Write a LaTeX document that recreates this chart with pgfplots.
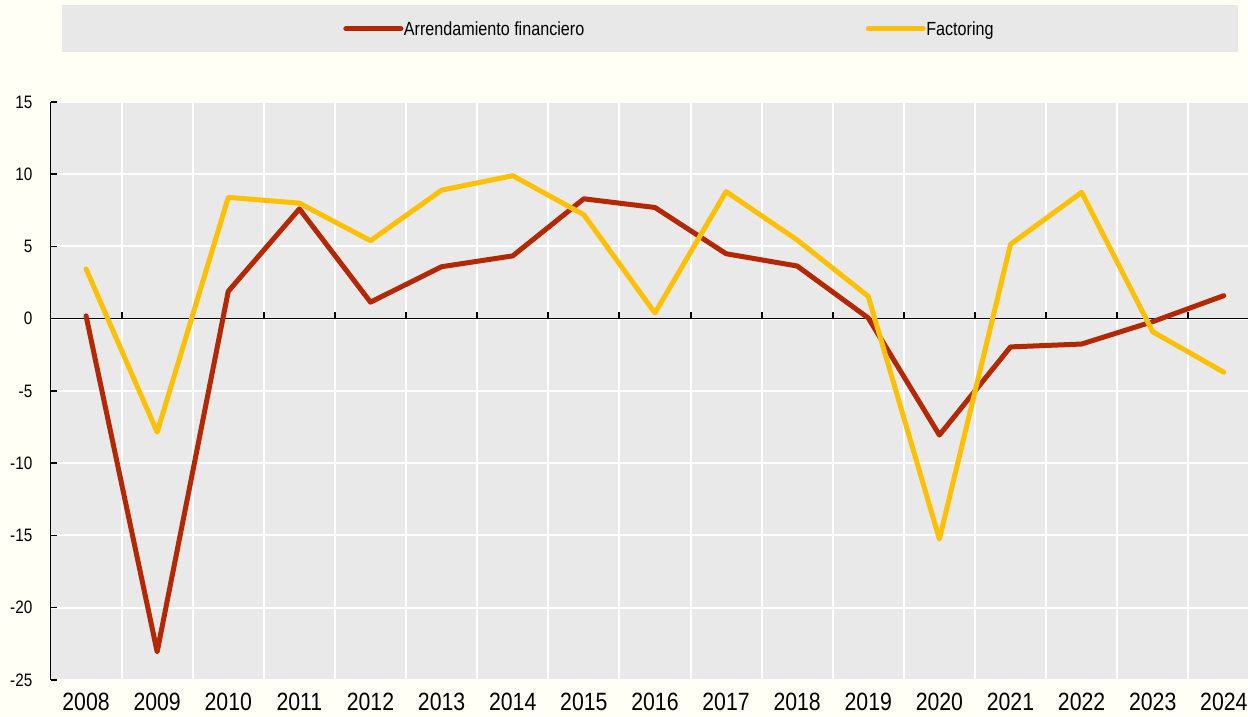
\documentclass[border=0pt]{standalone}
\usepackage{fontspec}
\setmainfont{Liberation Sans}[FakeStretch=0.85]
\usepackage{pgfplots}
\pgfplotsset{compat=1.18}

\definecolor{arrred}{RGB}{180,40,0}
\definecolor{factyel}{RGB}{255,192,0}
\definecolor{plotbg}{RGB}{233,233,233}
\definecolor{pagebg}{RGB}{255,255,246}
\definecolor{legbg}{RGB}{232,232,232}

\begin{document}
\begin{tikzpicture}[x=1pt,y=1pt]
\useasboundingbox[fill=pagebg] (0,0) rectangle (1248,717);
\fill[legbg] (62,665) rectangle (1238,712);
\begin{axis}[
  at={(50.5pt,37pt)}, anchor=south west,
  scale only axis, width=1197.5pt, height=578pt,
  xmin=-0.5, xmax=16.34, ymin=-25, ymax=15,
  axis background/.style={fill=plotbg},
  axis x line*=bottom, axis y line*=left,
  x axis line style={draw=none},
  y axis line style={-, black, line width=1.5pt},
  xtick={0,...,16},
  xticklabels={2008,2009,2010,2011,2012,2013,2014,2015,2016,2017,2018,2019,2020,2021,2022,2023,2024},
  xtick style={draw=none},
  minor xtick={0.5,1.5,...,15.5},
  xminorgrids=true, xmajorgrids=false, ymajorgrids=true,
  grid style={white, line width=2pt},
  minor grid style={white, line width=2pt},
  ytick={-25,-20,...,15},
  yticklabels={-25,-20,-15,-10,-5,0,5,10,15},
  tick align=inside, major tick length=6pt,
  ytick style={black, line width=1.5pt},
  xticklabel style={font=\fontsize{25}{25}\selectfont, anchor=north, inner sep=0pt, yshift=-13pt},
  yticklabel style={font=\fontsize{18}{18}\selectfont, anchor=east, inner sep=0pt, xshift=-18pt},
  legend columns=2,
  legend image code/.code={\draw[#1] (0pt,0pt) -- (55pt,0pt);},
  legend style={at={(0.2444,1.1263)}, anchor=west, draw=none, fill=none,
    inner sep=0pt, font=\fontsize{19}{19}\selectfont,
    nodes={inner sep=0.5pt},
    /tikz/every even column/.append style={column sep=281pt}},
  legend cell align=left,
  every axis plot/.append style={line width=5pt, line cap=round, line join=round},
]
\draw[black, line width=1.5pt] (axis cs:-0.5,0) -- (axis cs:16.34,0);
\pgfplotsinvokeforeach{0.5,1.5,2.5,3.5,4.5,5.5,6.5,7.5,8.5,9.5,10.5,11.5,12.5,13.5,14.5,15.5}{
  \draw[black, line width=2pt] (axis cs:#1,0) -- ++(0pt,6.5pt);
}
\addplot[arrred] coordinates {
  (0,0.2) (1,-23.05) (2,1.9) (3,7.6) (4,1.15) (5,3.6) (6,4.35) (7,8.3)
  (8,7.7) (9,4.5) (10,3.65) (11,0.05) (12,-8.05) (13,-1.95) (14,-1.75)
  (15,-0.2) (16,1.6)
};
\addlegendentry{Arrendamiento financiero}
\addplot[factyel] coordinates {
  (0,3.45) (1,-7.85) (2,8.4) (3,8.0) (4,5.4) (5,8.9) (6,9.9) (7,7.2)
  (8,0.4) (9,8.8) (10,5.45) (11,1.55) (12,-15.25) (13,5.15) (14,8.75)
  (15,-0.9) (16,-3.7)
};
\addlegendentry{Factoring}
\end{axis}
\end{tikzpicture}
\end{document}
